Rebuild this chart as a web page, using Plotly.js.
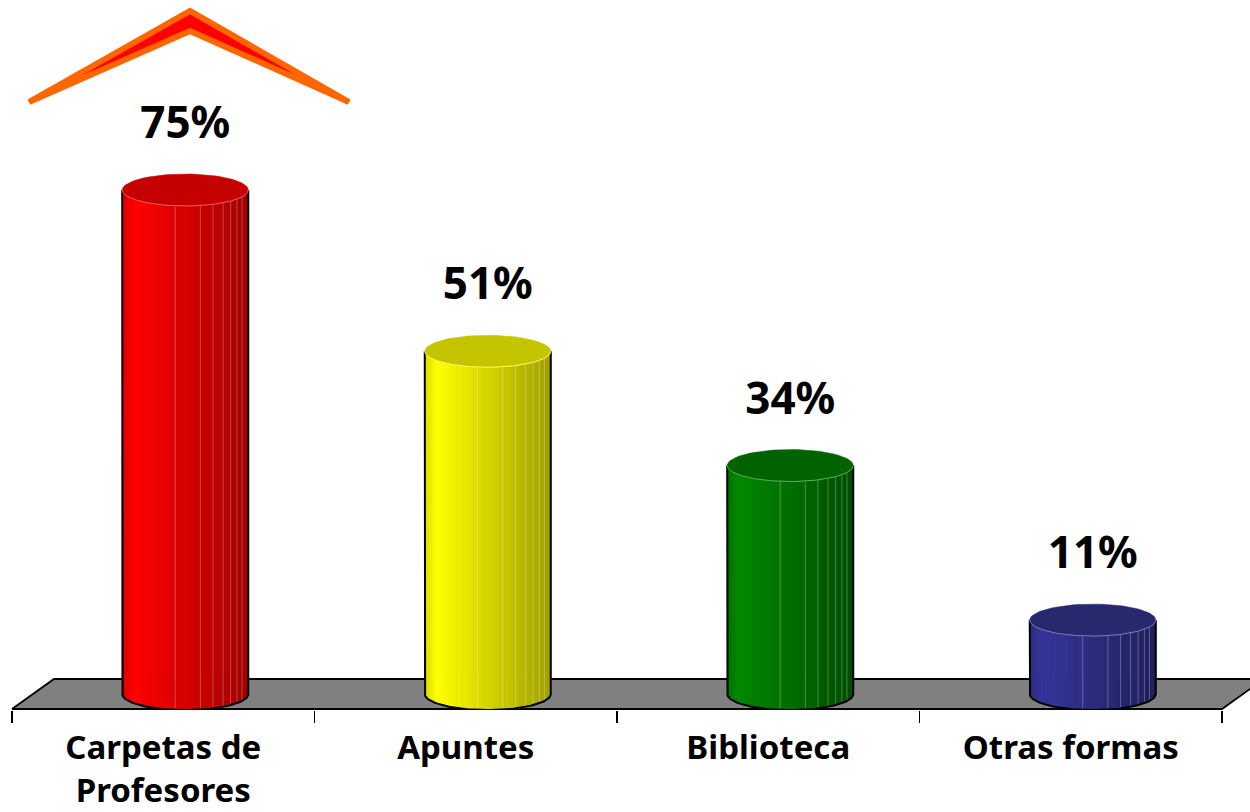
<!DOCTYPE html>
<html><head><meta charset="utf-8">
<script src="https://cdn.plot.ly/plotly-3.0.1.min.js"></script>
<style>html,body{margin:0;padding:0;background:#fff}#chart{width:1250px;height:812px}</style>
</head><body><div id="chart"></div>
<script>
// ---- data ----
const categories = ['Carpetas de<br>Profesores', 'Apuntes', 'Biblioteca', 'Otras formas'];
const values = [75, 51, 34, 11];
const valueLabels = ['75%', '51%', '34%', '11%'];

// ---- palette ----
const brightColors = ['#FF0000', '#FFFF00', '#008800', '#353599'];
const darkColors   = ['#A00000', '#A0A000', '#004C00', '#1F1F5C'];
const topColors    = ['#C40000', '#C4C400', '#006200', '#28286E'];

// ---- geometry (pixel scale of the axes) ----
const PX_X = 302.5, PX_Y = 6.72;
const RX = 63 / PX_X, RY = 16 / PX_Y;
const DEPTH_X = 42 / PX_X, FLOOR_HALF = 15 / PX_Y;
const CYL_SHIFT = 22 / PX_X;
const LABEL_GAP = 63 / PX_Y;
const FONT = 'Noto Sans, Open Sans, DejaVu Sans, sans-serif';
const SEAMS = [0.42, 0.62, 0.72, 0.8, 0.86, 0.91, 0.95];

function hex2rgb(h){return [parseInt(h.substr(1,2),16),parseInt(h.substr(3,2),16),parseInt(h.substr(5,2),16)];}
function mix(a,b,t){const A=hex2rgb(a),B=hex2rgb(b);return 'rgb('+A.map((v,i)=>Math.round(v+(B[i]-v)*t)).join(',')+')';}

const traces = [];
const n = categories.length;
// floor
traces.push({
  x: [-0.5, n - 0.5, n - 0.5 + DEPTH_X, -0.5 + DEPTH_X, -0.5],
  y: [-FLOOR_HALF, -FLOOR_HALF, FLOOR_HALF, FLOOR_HALF, -FLOOR_HALF],
  mode: 'lines', fill: 'toself', fillcolor: '#808080',
  line: {color: '#000', width: 1.8}, hoverinfo: 'skip'
});

const N = 36;
values.forEach((v, i) => {
  const cx = i + CYL_SHIFT;
  const bright = brightColors[i], dark = darkColors[i];
  // side strips (left to right)
  for (let k = 0; k < N; k++) {
    const t0 = Math.PI - k * Math.PI / N, t1 = Math.PI - (k + 1) * Math.PI / N;
    const x0 = cx + RX * Math.cos(t0), x1 = cx + RX * Math.cos(t1);
    const b0 = -RY * Math.sin(t0), b1 = -RY * Math.sin(t1);
    const f = (1 + Math.cos((t0 + t1) / 2)) / 2;
    let col;
    if (f < 0.1) col = mix(dark, bright, 0.6 + 0.4 * f / 0.1);
    else col = mix(bright, dark, (f - 0.1) / 0.9);
    traces.push({
      x: [x0, x1, x1, x0, x0], y: [b0, b1, v + b1, v + b0, b0],
      mode: 'lines', fill: 'toself', fillcolor: col,
      line: {width: 1, color: col}, hoverinfo: 'skip'
    });
  }
  // faint seams
  SEAMS.forEach(s => {
    const c = Math.acos(2 * s - 1);
    const xs = cx + RX * Math.cos(c), yb = -RY * Math.sin(c);
    traces.push({x: [xs, xs], y: [yb, v + yb], mode: 'lines',
      line: {color: 'rgba(255,255,255,0.28)', width: 1}, hoverinfo: 'skip'});
  });
  // outline
  const ox = [cx - RX, cx - RX], oy = [v, 0];
  for (let k = 0; k <= 60; k++) { const t = Math.PI - k * Math.PI / 60; ox.push(cx + RX * Math.cos(t)); oy.push(-RY * Math.sin(t)); }
  ox.push(cx + RX); oy.push(v);
  traces.push({x: ox, y: oy, mode: 'lines', line: {color: '#000', width: 2}, hoverinfo: 'skip'});
  // top ellipse
  const ex = [], ey = [];
  for (let k = 0; k <= 80; k++) { const t = 2 * Math.PI * k / 80; ex.push(cx + RX * Math.cos(t)); ey.push(v + RY * Math.sin(t)); }
  traces.push({x: ex, y: ey, mode: 'lines', fill: 'toself', fillcolor: topColors[i], line: {width: 0.5, color: topColors[i]}, hoverinfo: 'skip'});
  const rx = [], ry = [];
  for (let k = 0; k <= 60; k++) { const t = Math.PI + Math.PI * k / 60; rx.push(cx + RX * Math.cos(t)); ry.push(v + RY * Math.sin(t)); }
  traces.push({x: rx, y: ry, mode: 'lines', line: {color: mix(bright, '#FFFFFF', 0.35), width: 1}, hoverinfo: 'skip'});
});

// value labels
traces.push({
  x: values.map((v, i) => i + CYL_SHIFT),
  y: values.map(v => v + LABEL_GAP),
  text: valueLabels, mode: 'text', textposition: 'middle center',
  textfont: {family: FONT, size: 44, color: '#000', weight: 'bold'},
  hoverinfo: 'skip', cliponaxis: false
});

const plotH = 710;
const yMin = -16 / PX_Y;
const layout = {
  width: 1250, height: 812,
  margin: {l: 0, r: 0, t: 0, b: 812 - plotH, pad: 0},
  paper_bgcolor: '#fff', plot_bgcolor: '#fff', showlegend: false,
  xaxis: {
    range: [-0.5 - 12 / PX_X, n - 0.5 + 28 / PX_X],
    tickmode: 'array', tickvals: categories.map((c, i) => i), ticktext: categories,
    ticks: '', showgrid: false, zeroline: false, showline: false, fixedrange: true,
    ticklabelstandoff: 15,
    tickfont: {family: FONT, size: 33, color: '#000', weight: 'bold'},
    minor: {tickmode: 'array', tickvals: categories.map((c, i) => i - 0.5).concat([n - 0.5]),
            ticks: 'outside', ticklen: 12, tickcolor: '#000', tickwidth: 1.5, showgrid: false}
  },
  yaxis: {range: [yMin, yMin + plotH / PX_Y], visible: false, fixedrange: true},
  shapes: [{
    type: 'path', xref: 'paper', yref: 'paper',
    path: 'M ' + (29/1250) + ' ' + ((plotH-102)/plotH) + ' L ' + (190/1250) + ' ' + ((plotH-11)/plotH) +
          ' L ' + (349/1250) + ' ' + ((plotH-102)/plotH) + ' L ' + (190/1250) + ' ' + ((plotH-31)/plotH) + ' Z',
    fillcolor: '#FF0000', line: {color: '#FF6600', width: 6}, layer: 'above'
  }]
};
Plotly.newPlot('chart', traces, layout, {staticPlot: true, displayModeBar: false});
</script></body></html>
